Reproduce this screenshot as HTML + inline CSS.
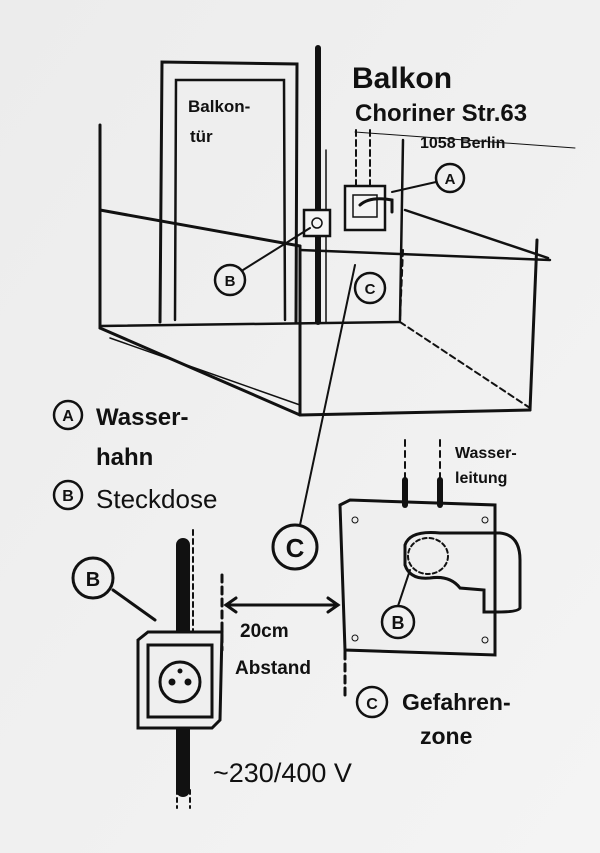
<!DOCTYPE html>
<html><head><meta charset="utf-8"><style>
html,body{margin:0;padding:0;background:#efefef;}
svg{display:block}
text{font-family:"Liberation Sans",sans-serif;fill:#111;font-weight:bold}
text.n{font-weight:normal}
</style></head><body>
<svg width="600" height="853" viewBox="0 0 600 853" xmlns="http://www.w3.org/2000/svg">
<defs><linearGradient id="bg" x1="0" y1="0" x2="1" y2="1"><stop offset="0" stop-color="#ececec"/><stop offset="1" stop-color="#f4f4f4"/></linearGradient></defs>
<rect width="600" height="853" fill="url(#bg)"/>
<g stroke="#111" fill="none" stroke-linecap="round">
<path d="M160 322 L162 62 L297 64 L296 322" stroke-width="3"/>
<path d="M175 320 L176 80 L284 80 L285 320" stroke-width="2.5"/>
<line x1="318" y1="48" x2="318" y2="322" stroke-width="6"/>
<line x1="326" y1="150" x2="326" y2="322" stroke-width="1.5"/>
<line x1="100" y1="125" x2="100" y2="328" stroke-width="3"/>
<line x1="100" y1="210" x2="300" y2="246" stroke-width="3"/>
<line x1="300" y1="250" x2="550" y2="260" stroke-width="2.5"/>
<line x1="405" y1="210" x2="548" y2="258" stroke-width="2.5"/>
<line x1="100" y1="328" x2="300" y2="415" stroke-width="3"/>
<line x1="300" y1="415" x2="530" y2="410" stroke-width="3"/>
<line x1="300" y1="246" x2="300" y2="415" stroke-width="3"/>
<line x1="537" y1="240" x2="530" y2="410" stroke-width="3"/>
<line x1="100" y1="326" x2="400" y2="322" stroke-width="2.5"/>
<line x1="400" y1="322" x2="530" y2="408" stroke-width="2" stroke-dasharray="6 4"/>
<line x1="403" y1="140" x2="400" y2="320" stroke-width="2.5"/>
<line x1="403" y1="250" x2="400" y2="320" stroke-width="2" stroke-dasharray="6 4"/>
<line x1="110" y1="338" x2="300" y2="405" stroke-width="1.5"/>
<rect x="304" y="210" width="26" height="26" stroke-width="2.5" fill="#f4f4f4"/>
<circle cx="317" cy="223" r="5" stroke-width="1.5"/>
<rect x="345" y="186" width="40" height="44" stroke-width="2.5" fill="#f4f4f4"/>
<rect x="353" y="195" width="24" height="22" stroke-width="1.5"/>
<path d="M360 205 Q370 196 392 200 L392 212" stroke-width="3"/>
<line x1="356" y1="130" x2="356" y2="186" stroke-width="2" stroke-dasharray="6 4"/>
<line x1="370" y1="130" x2="370" y2="186" stroke-width="2" stroke-dasharray="6 4"/>
<line x1="355" y1="132" x2="575" y2="148" stroke-width="1"/>
<circle cx="450" cy="178" r="14" stroke-width="2.5"/>
<line x1="436" y1="182" x2="392" y2="192" stroke-width="2"/>
<circle cx="230" cy="280" r="15" stroke-width="2.5"/>
<line x1="243" y1="270" x2="310" y2="228" stroke-width="2"/>
<circle cx="370" cy="288" r="15" stroke-width="2.5"/>
<line x1="355" y1="265" x2="300" y2="525" stroke-width="2"/>
<circle cx="295" cy="547" r="22" stroke-width="3"/>
<circle cx="68" cy="415" r="14" stroke-width="2.5"/>
<circle cx="68" cy="495" r="14" stroke-width="2.5"/>
<line x1="183" y1="545" x2="183" y2="640" stroke-width="14"/>
<line x1="193" y1="530" x2="193" y2="640" stroke-width="2" stroke-dasharray="5 4"/>
<line x1="183" y1="728" x2="183" y2="790" stroke-width="14"/>
<line x1="177" y1="790" x2="177" y2="808" stroke-width="2" stroke-dasharray="4 4"/>
<line x1="190" y1="790" x2="190" y2="808" stroke-width="2" stroke-dasharray="4 4"/>
<path d="M138 640 L148 632 L222 632 L220 720 L212 728 L138 728 Z" stroke-width="3" fill="#efefef"/>
<rect x="148" y="645" width="64" height="72" stroke-width="3"/>
<circle cx="180" cy="682" r="20" stroke-width="3"/>
<circle cx="172" cy="682" r="3" fill="#111"/>
<circle cx="188" cy="682" r="3" fill="#111"/>
<circle cx="180" cy="671" r="2" fill="#111"/>
<circle cx="93" cy="578" r="20" stroke-width="3"/>
<line x1="113" y1="590" x2="155" y2="620" stroke-width="3"/>
<line x1="222" y1="575" x2="222" y2="650" stroke-width="3" stroke-dasharray="7 5"/>
<line x1="226" y1="605" x2="338" y2="605" stroke-width="3"/>
<path d="M236 598 L226 605 L236 612 M328 598 L338 605 L328 612" stroke-width="3"/>
<line x1="345" y1="640" x2="345" y2="700" stroke-width="3" stroke-dasharray="7 5"/>
<path d="M340 505 L350 500 L495 505 L495 655 L345 650 Z" stroke-width="3" fill="#efefef"/>
<circle cx="355" cy="520" r="3"/><circle cx="485" cy="520" r="3"/>
<circle cx="355" cy="638" r="3"/><circle cx="485" cy="640" r="3"/>
<line x1="405" y1="440" x2="405" y2="505" stroke-width="2" stroke-dasharray="6 5"/>
<line x1="440" y1="440" x2="440" y2="505" stroke-width="2" stroke-dasharray="6 5"/>
<line x1="405" y1="480" x2="405" y2="505" stroke-width="6"/>
<line x1="440" y1="480" x2="440" y2="505" stroke-width="6"/>
<path d="M405 545 Q410 530 440 533 L500 533 Q520 535 520 560 L520 608 Q518 612 498 612 L484 612 L484 590 L460 588 Q450 575 430 578 Q410 580 405 565 Z" stroke-width="3"/>
<ellipse cx="428" cy="556" rx="20" ry="18" stroke-width="2" stroke-dasharray="4 3"/>
<circle cx="398" cy="622" r="16" stroke-width="2.5"/>
<line x1="398" y1="606" x2="410" y2="570" stroke-width="2"/>
<circle cx="372" cy="702" r="15" stroke-width="2.5"/>
</g>
<text x="352" y="88" font-size="30">Balkon</text>
<text x="355" y="121" font-size="24">Choriner Str.63</text>
<text x="420" y="148" font-size="16">1058 Berlin</text>
<text x="188" y="112" font-size="17">Balkon-</text>
<text x="190" y="142" font-size="17">tür</text>
<text x="450" y="184" font-size="15" text-anchor="middle">A</text>
<text x="230" y="286" font-size="15" text-anchor="middle">B</text>
<text x="370" y="294" font-size="15" text-anchor="middle">C</text>
<text x="295" y="557" font-size="26" text-anchor="middle">C</text>
<text x="68" y="421" font-size="16" text-anchor="middle">A</text>
<text x="68" y="501" font-size="16" text-anchor="middle">B</text>
<text x="96" y="425" font-size="24">Wasser-</text>
<text x="96" y="465" font-size="24">hahn</text>
<text x="96" y="508" font-size="26" class="n">Steckdose</text>
<text x="93" y="586" font-size="20" text-anchor="middle">B</text>
<text x="398" y="629" font-size="18" text-anchor="middle">B</text>
<text x="372" y="709" font-size="16" text-anchor="middle">C</text>
<text x="240" y="637" font-size="19">20cm</text>
<text x="235" y="674" font-size="19">Abstand</text>
<text x="455" y="458" font-size="16">Wasser-</text>
<text x="455" y="483" font-size="16">leitung</text>
<text x="402" y="710" font-size="23">Gefahren-</text>
<text x="420" y="744" font-size="23">zone</text>
<text x="213" y="782" font-size="27" class="n">~230/400 V</text>
</svg>
</body></html>
